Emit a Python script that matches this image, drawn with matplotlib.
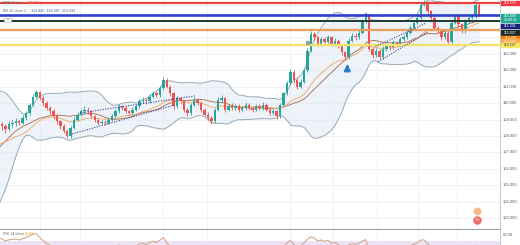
import numpy as np
import pandas as pd
import matplotlib
matplotlib.use("Agg")
import matplotlib.pyplot as plt
from matplotlib.patches import Rectangle

plt.rcParams["font.family"] = ["Liberation Sans", "DejaVu Sans"]

# ---------------- data ----------------
# closes before the first visible candle (only feed the indicators)
pre_close = [103.6, 103.8, 103.5, 103.9, 104.1, 103.8, 104.0, 104.3, 104.1, 104.4,
             104.2, 104.5, 104.3, 104.6, 105.2, 105.9, 106.6, 107.3, 107.9, 108.2,
             108.6, 108.4, 108.9, 108.7, 108.5, 108.9, 108.6, 108.8, 108.5, 108.7]

close = [108.6, 108.4, 108.7, 108.8, 108.9, 108.8, 109.1, 109.4, 109.9, 110.4,
         110.65, 110.3, 110.0, 109.7, 109.5, 109.2, 108.9, 108.6, 108.3, 108.0,
         108.5, 109.0, 109.3, 109.5, 109.6, 109.5, 109.2, 109.0, 108.8, 108.85,
         108.8, 109.0, 109.2, 109.5, 109.8, 109.7, 109.5, 109.4, 109.6, 109.8,
         110.1, 110.2, 110.1, 110.4, 110.6, 110.5, 110.9, 111.4, 111.0, 110.6,
         109.8, 110.3, 110.1, 109.6, 109.4, 109.9, 110.2, 110.0, 109.6, 109.3,
         109.1, 108.9, 109.6, 110.2, 110.3, 109.6, 109.8, 109.7, 109.8, 109.6,
         109.7, 109.9, 109.7, 109.6, 109.8, 109.7, 109.9, 109.6, 109.4, 109.5,
         109.2, 109.9, 110.6, 111.2, 111.9, 111.4, 111.0, 111.3, 112.0, 113.2,
         114.2, 114.0, 113.6, 113.9, 113.7, 114.0, 113.6, 113.8, 113.5, 113.1,
         112.8, 113.8, 114.1, 114.0, 114.3, 115.0, 115.4, 113.3, 112.9, 113.2,
         112.8, 113.3, 113.5, 113.4, 113.7, 113.6, 113.9, 114.0, 114.3, 114.6,
         114.9, 115.2, 116.0, 116.1, 115.6, 115.2, 114.6, 114.4, 114.0, 114.3,
         113.7, 114.9, 115.3, 114.8, 114.4, 115.0, 115.2, 115.3, 116.0, 115.44]

high = [108.85, 108.75, 108.9, 109.0, 109.1, 109.05, 109.25, 109.5, 110.0, 110.55,
        110.8, 110.75, 110.45, 110.1, 109.85, 109.65, 109.35, 109.0, 108.75, 108.4,
        108.6, 109.15, 109.45, 109.65, 109.8, 109.75, 109.6, 109.3, 109.1, 109.0,
        109.0, 109.15, 109.35, 109.65, 109.95, 109.9, 109.8, 109.6, 109.75, 109.95,
        110.25, 110.35, 110.3, 110.55, 110.75, 110.7, 111.05, 111.6, 111.5, 111.1,
        110.7, 110.45, 110.4, 110.2, 109.7, 110.0, 110.35, 110.3, 110.1, 109.7,
        109.45, 109.2, 109.7, 110.35, 110.5, 110.4, 109.95, 110.0, 109.95, 109.95,
        109.85, 110.05, 110.0, 109.85, 109.95, 109.95, 110.05, 110.0, 109.7, 109.65,
        109.6, 110.0, 110.7, 111.35, 112.05, 112.0, 111.5, 111.45, 112.15, 113.35,
        114.4, 114.35, 114.1, 114.05, 114.0, 114.15, 114.1, 113.95, 113.9, 113.6,
        113.2, 113.95, 114.25, 114.3, 114.45, 115.15, 115.55, 115.45, 113.4, 113.35,
        113.3, 113.45, 113.65, 113.6, 113.85, 113.8, 114.05, 114.15, 114.45, 114.75,
        115.05, 115.35, 116.15, 116.3, 116.2, 115.7, 115.3, 114.7, 114.5, 114.45,
        114.4, 115.05, 115.45, 115.4, 114.9, 115.15, 115.35, 115.45, 116.15, 116.1]

low = [108.35, 108.2, 108.3, 108.55, 108.6, 108.65, 108.7, 109.0, 109.3, 109.8,
       110.3, 110.2, 109.85, 109.55, 109.35, 109.05, 108.75, 108.45, 108.15, 107.85,
       107.9, 108.4, 108.9, 109.2, 109.35, 109.35, 109.1, 108.85, 108.65, 108.7,
       108.65, 108.7, 108.9, 109.1, 109.4, 109.55, 109.4, 109.25, 109.3, 109.5,
       109.7, 110.0, 109.95, 110.0, 110.3, 110.35, 110.4, 110.8, 110.9, 110.45,
       109.65, 109.7, 109.95, 109.45, 109.2, 109.3, 109.8, 109.9, 109.45, 109.2,
       108.95, 108.7, 108.8, 109.5, 110.05, 109.45, 109.5, 109.55, 109.55, 109.45,
       109.5, 109.6, 109.6, 109.45, 109.5, 109.55, 109.6, 109.5, 109.3, 109.3,
       109.05, 109.1, 109.8, 110.5, 111.1, 111.25, 110.85, 110.9, 111.2, 111.9,
       113.1, 113.85, 113.45, 113.5, 113.55, 113.6, 113.45, 113.5, 113.35, 112.95,
       112.65, 112.7, 113.7, 113.85, 113.9, 114.2, 114.9, 113.15, 112.75, 112.8,
       112.7, 112.7, 113.2, 113.25, 113.3, 113.45, 113.5, 113.8, 113.9, 114.2,
       114.5, 114.8, 115.1, 115.9, 115.45, 115.05, 114.45, 114.25, 113.85, 113.9,
       113.55, 113.6, 114.8, 114.65, 114.25, 114.3, 114.9, 115.1, 115.2, 115.3]

level_prices = [116.11, 115.38, 115.01, 114.46, 113.55]
level_colors = ["#e8423f", "#2f3fd0", "#1f3a33", "#e8a060", "#f3e36a"]
level_widths = [1.6, 1.9, 1.4, 1.7, 1.7]

tag_texts = ["116.100", "115.409\n14:00:11", "115.301", "115.027", "114.496", "114.331", "113.527"]
tag_colors = ["#f23645", "#22ab94", "#1a237e", "#1e2b2b", "#f57c00", "#ffa94d", "#f7e463"]
tag_text_colors = ["white", "white", "white", "white", "white", "white", "#333333"]

price_ticks = [103, 104, 105, 106, 107, 108, 109, 110, 111, 112, 113]
time_grid = [11, 22.7, 47, 59.8, 84, 96.5, 109.3, 121.3, 132.7]

# ---------------- indicators ----------------
n_pre = len(pre_close)
allc = pd.Series(pre_close + close, dtype=float)
xa = np.arange(len(allc)) - n_pre
basis = allc.rolling(20).mean()
sd = allc.rolling(20).std(ddof=0)
upper = basis + 2 * sd
lower = basis - 2 * sd
ema_fast = allc.ewm(span=20, adjust=False).mean()
d = allc.diff()
gain = d.clip(lower=0).ewm(alpha=1 / 14, adjust=False).mean()
loss = (-d.clip(upper=0)).ewm(alpha=1 / 14, adjust=False).mean()
rsi = 100 - 100 / (1 + gain / loss)

c = np.array(close)
o = np.concatenate([[pre_close[-1]], c[:-1]])
h = np.array(high)
l = np.array(low)
x = np.arange(len(c))

# ---------------- figure ----------------
W, H = 520, 245
fig = plt.figure(figsize=(W / 100, H / 100), dpi=100)
fig.patch.set_facecolor("white")

def px(xp):
    return xp / W

def py(yp):
    return 1 - yp / H

ax = fig.add_axes([0, 16 / H, 500 / W, 229 / H])
ax.set_xlim(-0.6, 145.1)
ax.set_ylim(102.33, 116.28)
ax.set_xticks([])
ax.set_yticks([])
for s in ["top", "left"]:
    ax.spines[s].set_visible(False)
ax.spines["right"].set_color("#c9ccd4")
ax.spines["right"].set_linewidth(0.8)
ax.spines["bottom"].set_color("#9a9ca3")
ax.spines["bottom"].set_linewidth(0.8)

for p in range(103, 117):
    ax.axhline(p, color="#eef0f4", lw=0.6, zorder=0)
for g in time_grid:
    ax.axvline(g, color="#eef0f4", lw=0.6, zorder=0)

# bollinger
ax.fill_between(xa, lower, upper, color="#dce8f3", alpha=0.5, lw=0, zorder=1)
ax.plot(xa, upper, color="#97abb7", lw=0.7, zorder=2)
ax.plot(xa, lower, color="#97abb7", lw=0.7, zorder=2)
ax.plot(xa, basis, color="#a8674a", lw=0.6, zorder=2)
ax.plot(xa, ema_fast, color="#f2a45e", lw=0.6, zorder=2)

# candles
up = c >= o
col = np.where(up, "#26a69a", "#ef5350")
ax.vlines(x, l, h, colors=col, lw=0.6, zorder=3)
ax.bar(x, np.maximum(np.abs(c - o), 0.04), bottom=np.minimum(o, c), width=0.7,
       color=col, lw=0, zorder=4)

# horizontal levels
for p, cc, lw in zip(level_prices, level_colors, level_widths):
    ax.axhline(p, color=cc, lw=lw, zorder=5)

# channels (dotted)
dot = dict(color="#3a3d9a", lw=0.8, ls=(0, (1, 1.3)), zorder=6)
ax.plot([22.7, 56.3], [109.40, 110.44], **dot)
ax.plot([20.4, 50.4], [108.12, 109.89], **dot)
ax.plot([108.8, 123.3], [113.44, 114.85], **dot)
ax.plot([109.6, 124.2], [112.52, 114.36], **dot)

# arrow
ax.annotate("", xy=(100.6, 112.55), xytext=(100.6, 111.9),
            arrowprops=dict(arrowstyle="-|>", color="#2b7bd6", lw=1.8,
                            mutation_scale=8), zorder=7)

# small marker square
ax.add_patch(Rectangle((88.5, 113.6), 0.9, 0.2, color="#9e9e9e", zorder=6))

# price-scale labels
yt = ax.get_yaxis_transform()
for p in price_ticks:
    ax.text(1.006, p, f"{p:.3f}", transform=yt, fontsize=3.0, color="#5a5d66",
            va="center", ha="left", clip_on=False)

tag_pos = [116.10, 115.17, 114.70, 114.30, 113.98, 113.75, 113.55]
for t, cc, tc, p in zip(tag_texts, tag_colors, tag_text_colors, tag_pos):
    hh = 0.52 if "\n" in t else 0.27
    ax.add_patch(Rectangle((1.002, p - hh / 2), 0.038, hh, transform=yt,
                           color=cc, clip_on=False, zorder=8))
    ax.text(1.021, p, t, transform=yt, fontsize=2.5, color=tc, va="center",
            ha="center", clip_on=False, zorder=9, linespacing=1.0)

# top-left legend text
fig.text(px(3), py(2.5), "EMA 8 close", fontsize=2.7, color="#6a6d78", va="center")
fig.text(px(27), py(2.5), "116.103", fontsize=2.7, color="#e8623f", va="center")
fig.text(px(3), py(10.5), "BB 20 close 2", fontsize=2.7, color="#6a6d78", va="center")
fig.text(px(31), py(10.5), "114.845  116.097  113.593", fontsize=2.7,
         color="#3a5a8c", va="center")
fig.add_artist(Rectangle((px(4), py(22.5)), 7 / W, 4.5 / H, transform=fig.transFigure,
                         facecolor="white", edgecolor="#b0b3bb", lw=0.4))
fig.text(px(7.5), py(20.3), "^", fontsize=3.0, color="#555", ha="center", va="center")

# dividend / earnings icons
ax.scatter([138.5], [103.40], s=22, color="#f6b98a", zorder=9, clip_on=False)
ax.scatter([138.5], [102.88], s=26, color="#f06a6a", zorder=9)
ax.text(138.5, 102.88, "D", fontsize=3.0, color="white", ha="center", va="center",
        zorder=10)

# ---------------- RSI pane ----------------
ax2 = fig.add_axes([0, 0, 500 / W, 15 / H])
ax2.set_xlim(-0.6, 145.1)
ax2.set_ylim(62.5, 88.8)
ax2.set_xticks([])
ax2.set_yticks([])
for s in ["top", "left", "bottom"]:
    ax2.spines[s].set_visible(False)
ax2.spines["right"].set_color("#c9ccd4")
ax2.spines["right"].set_linewidth(0.8)
ax2.axhspan(30, 70, color="#ede3f7", lw=0, zorder=0)
for g in time_grid:
    ax2.axvline(g, color="#eef0f4", lw=0.6, zorder=0)
ax2.plot(xa, rsi, color="#cda07e", lw=0.7, zorder=2)
ax2.text(1.006, 80, "80.00", transform=ax2.get_yaxis_transform(), fontsize=3.0,
         color="#5a5d66", va="center", ha="left", clip_on=False)
fig.text(px(3), py(234), "RSI 14 close", fontsize=2.7, color="#6a6d78", va="center",
         bbox=dict(boxstyle="square,pad=0.1", fc="white", ec="none"), zorder=5)
fig.text(px(25), py(234), "55.88", fontsize=2.7, color="#f0a020", va="center", zorder=5)

fig.savefig("out.png", dpi=100, facecolor="white")
